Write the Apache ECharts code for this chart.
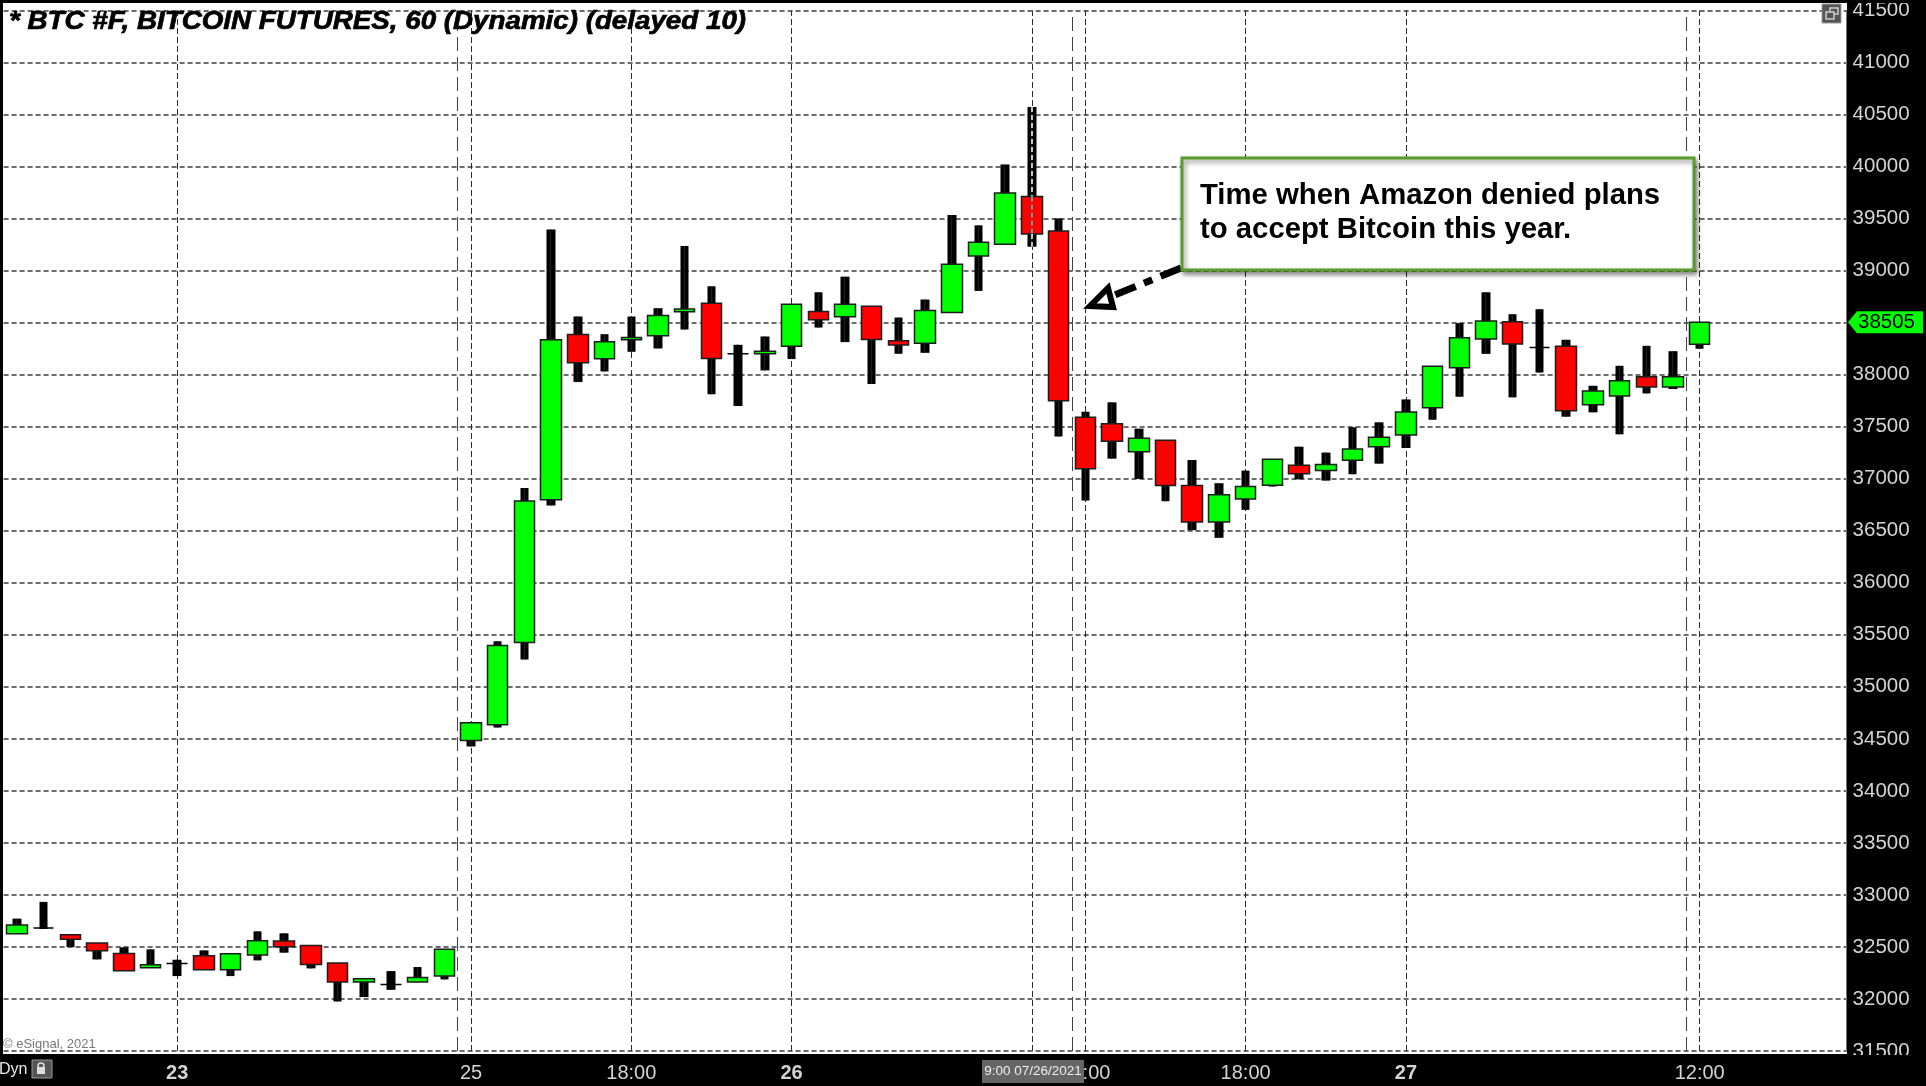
<!DOCTYPE html>
<html>
<head>
<meta charset="utf-8">
<style>html,body{margin:0;padding:0;background:#000;overflow:hidden}</style>
<script src="https://cdn.jsdelivr.net/npm/echarts@6/dist/echarts.min.js"></script>
</head>
<body>
<div id="chart" style="width:1926px;height:1086px"></div>
<script>
// Values, one entry per hourly bar
var opens = [32628,32682,32618,32538,32438,32300,32342,32416,32281,32422,32557,32515,32345,32162,32140,32162,32220,
  34485,34635,35426,36797,38386,38153,38335,38373,38604,38687,38201,38201,38274,38607,38556,38658,38325,38303,38597,39141,39253,39713,39381,
  37590,37529,37260,37369,36934,36585,36806,36937,37129,37078,37177,37308,37420,37682,38066,38344,38508,38261,38274,37711,37794,37980,37881,38292];
var closes = [32711,32682,32573,32464,32271,32329,32342,32281,32435,32560,32502,32332,32162,32194,32140,32207,32477,
  34654,35397,36785,38335,38114,38316,38357,38568,38632,38156,38201,38226,38677,38527,38677,38338,38284,38616,39061,39272,39745,39352,37750,
  37097,37359,37388,36934,36585,36845,36925,37187,37049,37136,37286,37398,37641,38082,38354,38517,38296,38261,37654,37842,37941,37881,37980,38505];
var lows = [32628,32673,32499,32380,32271,32300,32220,32281,32220,32371,32445,32294,31976,32018,32088,32162,32188,
  34427,34609,35263,36743,37929,38031,38220,38252,38434,37811,37699,38041,38150,38453,38313,37910,38201,38210,38597,38805,39253,39230,37407,
  36790,37193,36998,36784,36506,36432,36701,36925,36995,36982,37043,37145,37295,37567,37788,38200,37782,38021,37596,37638,37427,37820,37862,38249];
var highs = [32772,32933,32618,32538,32496,32477,32377,32467,32435,32650,32631,32515,32345,32194,32268,32307,32477,
  34654,35439,36912,39396,38559,38389,38559,38639,39237,38850,38287,38367,38677,38792,38942,38658,38549,38722,39534,39435,40020,40573,39502,
  37644,37734,37481,37369,37180,36957,37078,37187,37308,37251,37494,37542,37762,38082,38495,38792,38581,38629,38335,37893,38085,38277,38226,38505];

// Time axis: 64 bars and 5 empty slots on the right
var barCount = 69;
var tickIndex = [6, 17, 23, 29, 40, 46, 52, 63];
var tickLabels = ["23", "25", "18:00", "26", "12:00", "18:00", "27", "12:00"];
var boldLabels = ["23", "26", "27"];
var sessionBreaks = [16.5, 39.5, 62.5];
var cursorBar = 38;
var lastPrice = 38505;

var categories = [];
for (var i = 0; i < barCount; i++) {
  var t = tickIndex.indexOf(i);
  categories.push(t >= 0 ? tickLabels[t] : "");
}

var wickData = lows.map(function (low, i) { return [low, highs[i], low, highs[i]]; });
var bodyData = opens.map(function (open, i) { return [open, closes[i], lows[i], highs[i]]; });

// vertical lines all go on the hidden numeric axis
var timeLines = tickIndex.concat([cursorBar]).map(function (x) {
  return { xAxis: x, lineStyle: { color: "#2c2c2c", width: 1, type: [6, 3] } };
});
var breakLines = sessionBreaks.map(function (x) {
  return { xAxis: x, lineStyle: { color: "#444", width: 1, type: [14, 6] } };
});

var font = '"Liberation Sans", Arial, sans-serif';
var chart = echarts.init(document.getElementById("chart"));

var option = {
  animation: false,
  backgroundColor: "#000",
  grid: { left: 3.6, right: 79.4, top: 8.5, bottom: 35, containLabel: false },
  xAxis: [
    {
      type: "category",
      data: categories,
      boundaryGap: true,
      axisLine: { show: false },
      axisTick: { show: false },
      splitLine: { show: false },
      axisLabel: {
        interval: 0,
        margin: 12,
        color: "#d4d4d4",
        fontFamily: font,
        fontSize: 20,
        formatter: function (v) {
          return boldLabels.indexOf(v) >= 0 ? "{b|" + v + "}" : v;
        },
        rich: { b: { color: "#d4d4d4", fontFamily: font, fontSize: 20, fontWeight: "bold" } },
      },
    },
    // hidden numeric axis, same span as the bars
    { type: "value", show: false, min: -0.5, max: barCount - 0.5, splitLine: { show: false } },
  ],
  yAxis: {
    type: "value",
    position: "right",
    min: 31500,
    max: 41500,
    interval: 500,
    axisLine: { show: true, onZero: false, lineStyle: { color: "#777", width: 1 } },
    axisTick: { show: false },
    axisLabel: {
      margin: 6,
      color: "#d4d4d4",
      fontFamily: font,
      fontSize: 20.5,
      formatter: function (v) { return v === 38500 ? "" : String(v); },
    },
    splitLine: { show: true, lineStyle: { color: "#3c3c3c", width: 1.5, type: [5, 3] } },
  },
  series: [
    {
      type: "line",
      xAxisIndex: 1,
      data: [],
      z: 1,
      markLine: {
        silent: true,
        z: 1,
        symbol: "none",
        animation: false,
        label: { show: false },
        data: timeLines.concat(breakLines),
      },
    },
    {
      name: "wick",
      type: "candlestick",
      barWidth: 9,
      z: 2,
      silent: true,
      itemStyle: { color: "#000", color0: "#000", borderColor: "#000", borderColor0: "#000", borderWidth: 0 },
      data: wickData,
    },
    {
      name: "BTC #F",
      type: "candlestick",
      barWidth: 21,
      z: 3,
      silent: true,
      itemStyle: {
        color: "#00ff00",
        color0: "#ff0000",
        borderColor: "#1c1c1c",
        borderColor0: "#1c1c1c",
        borderColorDoji: "#000",
        borderWidth: 1.5,
      },
      data: bodyData,
      // the cursor line shows inverted where it crosses the bar
      markLine: {
        silent: true,
        z: 6,
        symbol: "none",
        animation: false,
        label: { show: false },
        lineStyle: { color: "#fff", width: 1.5, type: [5, 3] },
        data: [
          [{ xAxis: cursorBar, yAxis: highs[cursorBar] }, { xAxis: cursorBar, yAxis: opens[cursorBar] }],
          [
            { xAxis: cursorBar, yAxis: opens[cursorBar], lineStyle: { color: "#19d8e8" } },
            { xAxis: cursorBar, yAxis: closes[cursorBar] },
          ],
          [{ xAxis: cursorBar, yAxis: closes[cursorBar] }, { xAxis: cursorBar, yAxis: lows[cursorBar] }],
        ],
      },
    },
  ],
  graphic: [
    // plot background
    { type: "rect", z: -1, silent: true, shape: { x: 3, y: 3, width: 1844, height: 1051 }, style: { fill: "#fff" } },
    // clips the first and last price labels like the original frame does
    { type: "rect", z: 50, silent: true, shape: { x: 0, y: 0, width: 1926, height: 3 }, style: { fill: "#000" } },
    { type: "rect", z: 50, silent: true, shape: { x: 1848, y: 1055, width: 78, height: 31 }, style: { fill: "#000" } },
    // chart heading, stretched wider like the original
    {
      type: "text",
      z: 20,
      silent: true,
      x: 9,
      y: 22,
      scaleX: 1.11,
      style: {
        text: "* BTC #F, BITCOIN FUTURES, 60 (Dynamic) (delayed 10)",
        fill: "#000",
        font: "italic bold 25px " + font,
        verticalAlign: "middle",
        stroke: "#000",
        lineWidth: 0.7,
        shadowColor: "rgba(210,130,40,0.6)",
        shadowBlur: 1,
        shadowOffsetX: 1,
      },
    },
    // callout
    {
      type: "rect",
      z: 30,
      silent: true,
      shape: { x: 1182, y: 158, width: 512, height: 112 },
      style: {
        fill: "#fff",
        stroke: "#5b9a2c",
        lineWidth: 3,
        shadowColor: "rgba(0,0,0,0.45)",
        shadowBlur: 5,
        shadowOffsetX: 2,
        shadowOffsetY: 3,
      },
    },
    {
      type: "text",
      z: 31,
      silent: true,
      x: 1200,
      y: 179,
      style: {
        text: "Time when Amazon denied plans\nto accept Bitcoin this year.",
        fill: "#000",
        font: "bold 29.3px " + font,
        lineHeight: 34,
      },
    },
    // dash-dot arrow to the big red bar
    {
      type: "line",
      z: 29,
      silent: true,
      shape: { x1: 1181, y1: 268, x2: 1110, y2: 297 },
      style: { stroke: "#000", lineWidth: 7, lineDash: [22, 9, 9, 9] },
    },
    {
      type: "polygon",
      z: 29,
      silent: true,
      shape: { points: [[1090, 306], [1108, 288], [1113, 307]] },
      style: { fill: "#fff", stroke: "#000", lineWidth: 6, lineJoin: "miter" },
    },
    // corner bits from the charting package
    { type: "rect", z: 10, silent: true, shape: { x: 1822, y: 4, width: 19, height: 19 }, style: { fill: "#555", stroke: "#999", lineWidth: 1 } },
    { type: "rect", z: 11, silent: true, shape: { x: 1830, y: 8, width: 8, height: 6 }, style: { fill: "none", stroke: "#ccc", lineWidth: 1.5 } },
    { type: "rect", z: 11, silent: true, shape: { x: 1826, y: 12, width: 8, height: 7 }, style: { fill: "#555", stroke: "#ccc", lineWidth: 1.5 } },
    {
      type: "text",
      z: 10,
      silent: true,
      x: 3,
      y: 1038,
      style: { text: "© eSignal, 2021", fill: "#777", font: "13px " + font },
    },
    {
      type: "text",
      z: 10,
      silent: true,
      x: -1,
      y: 1062,
      style: { text: "Dyn", fill: "#e8e8e8", font: "16px " + font },
    },
    { type: "rect", z: 10, silent: true, shape: { x: 32, y: 1060, width: 20, height: 18 }, style: { fill: "#555", stroke: "#999", lineWidth: 1 } },
    { type: "rect", z: 11, silent: true, shape: { x: 37, y: 1067, width: 8, height: 7 }, style: { fill: "#ddd" } },
    { type: "circle", z: 11, silent: true, shape: { cx: 41, cy: 1066, r: 3 }, style: { fill: "none", stroke: "#ddd", lineWidth: 1.5 } },
    // cursor date box, sits over the 12:00 label
    { type: "rect", z: 40, silent: true, shape: { x: 982, y: 1060, width: 102, height: 23 }, style: { fill: "#666" } },
    {
      type: "text",
      z: 41,
      silent: true,
      x: 1033,
      y: 1071.5,
      style: { text: "9:00 07/26/2021", fill: "#eee", font: "13.5px " + font, align: "center", verticalAlign: "middle" },
    },
  ],
};
chart.setOption(option);

// last price tag on the axis, placed through the value scale
var tagY = chart.convertToPixel({ yAxisIndex: 0 }, lastPrice);
chart.setOption({
  graphic: option.graphic.concat([
    {
      type: "polygon",
      z: 45,
      silent: true,
      shape: { points: [[1848, tagY], [1857, tagY - 11], [1923, tagY - 11], [1923, tagY + 11], [1857, tagY + 11]] },
      style: { fill: "#00ff00" },
    },
    {
      type: "text",
      z: 46,
      silent: true,
      x: 1858,
      y: tagY,
      style: { text: String(lastPrice), fill: "#000", font: "20.5px " + font, verticalAlign: "middle" },
    },
  ]),
});
</script>
</body>
</html>
